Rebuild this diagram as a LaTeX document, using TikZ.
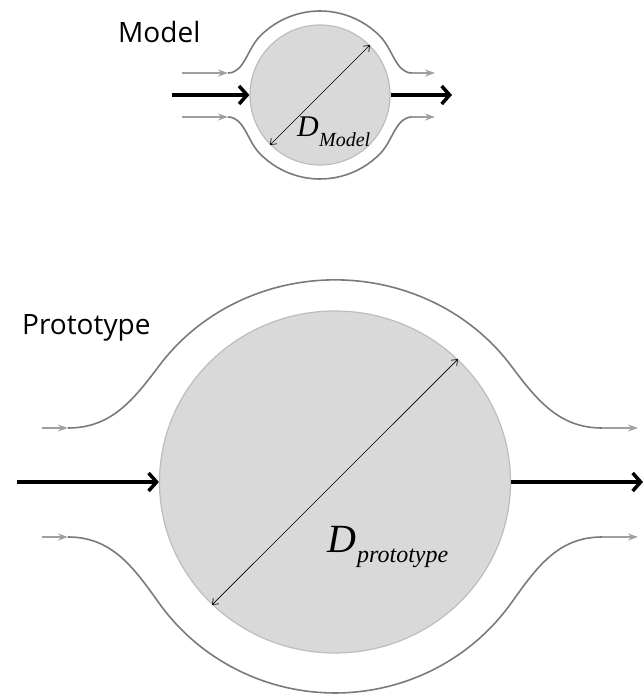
\documentclass[tikz,border=0pt]{standalone}
\usepackage{fontspec}
\setmainfont{Liberation Serif}
\newfontfamily\labelfont{Open Sans}
\usetikzlibrary{arrows.meta,shapes.geometric}
\definecolor{bodyfill}{HTML}{D9D9D9}
\definecolor{bodyline}{HTML}{BDBDBD}
\definecolor{flowgray}{HTML}{7A7A7A}
\definecolor{arrowgray}{HTML}{A0A0A0}
\begin{document}
\begin{tikzpicture}[x=1pt,y=1pt,
  body/.style={fill=bodyfill, draw=bodyline, line width=1.2pt, inner sep=0pt},
  flow/.style={draw=flowgray, line width=1.6pt},
  flowarrow/.style={draw=arrowgray, line width=1.6pt, -{Stealth[length=10pt,width=7pt]}},
  bigarrow/.style={draw=black, line width=3.5pt, -{Straight Barb[length=8pt,width=18pt]}},
  diam/.style={draw=black, line width=0.7pt, {Straight Barb[length=5pt,width=8pt]}-{Straight Barb[length=5pt,width=8pt]}},
  caption/.style={font=\labelfont\fontsize{28}{28}\selectfont, inner sep=0pt, anchor=base west},
  dbig/.style={font=\itshape\fontsize{#1}{#1}\selectfont, inner sep=0pt, anchor=base west}
]
\useasboundingbox (0,0) rectangle (644,697);

% ---------------- Model ----------------
\node[body, circle, minimum size=140pt] (mc) at (320,602) {};
\node[caption] (mlab) at (118,654) {Model};

\coordinate (mu0) at (182,624);
\coordinate (mu1) at (228,624);
\coordinate (mu2) at (412,624);
\coordinate (mu3) at (435,624);
\coordinate (ml0) at (182,580);
\coordinate (ml1) at (228,580);
\coordinate (ml2) at (412,580);
\coordinate (ml3) at (435,580);

\draw[flow] (mu1) .. controls (244,624) and (247.1,647.4) .. (259.58,660.35)
  arc[start angle=136,end angle=44,radius=84]
  .. controls (392.9,647.4) and (396,624) .. (mu2);
\draw[flow] (ml1) .. controls (244,580) and (247.1,556.6) .. (259.58,543.65)
  arc[start angle=224,end angle=316,radius=84]
  .. controls (392.9,556.6) and (396,580) .. (ml2);
\draw[flowarrow] (mu0) -- (mu1);
\draw[flowarrow] (ml0) -- (ml1);
\draw[flowarrow] (mu2) -- (mu3);
\draw[flowarrow] (ml2) -- (ml3);

\coordinate (ma0) at (172,602);
\coordinate (ma1) at (452,602);
\draw[bigarrow] (ma0) -- (mc.west);
\draw[bigarrow] (mc.east) -- (ma1);

\draw[diam] (mc.225) -- (mc.45);
\node[dbig=30] (dm) at (297,560) {D};
\node[dbig=20] (dms) at (319,550) {Model};

% ---------------- Prototype ----------------
\node[body, ellipse, minimum width=351pt, minimum height=342pt] (pc) at (335,215) {};
\node[caption] (plab) at (22,362) {Prototype};

\coordinate (pu0) at (42,269);
\coordinate (pu1) at (68,269);
\coordinate (pu2) at (602,269);
\coordinate (pu3) at (638,269);
\coordinate (pl0) at (42,160);
\coordinate (pl1) at (68,160);
\coordinate (pl2) at (602,160);
\coordinate (pl3) at (638,160);

\draw[flow] (pu1) to[out=0,in=-127] (159,331)
  arc[start angle=145,end angle=35,x radius=215,y radius=202]
  to[out=-53,in=180] (pu2);
\draw[flow] (pl1) to[out=0,in=125.5] (159,94)
  arc[start angle=215,end angle=325,x radius=215,y radius=211]
  to[out=54.5,in=180] (pl2);
\draw[flowarrow] (pu0) -- (pu1);
\draw[flowarrow] (pl0) -- (pl1);
\draw[flowarrow] (pu2) -- (pu3);
\draw[flowarrow] (pl2) -- (pl3);

\coordinate (pa0) at (17,215);
\coordinate (pa1) at (643,215);
\draw[bigarrow] (pa0) -- (pc.west);
\draw[bigarrow] (pc.east) -- (pa1);

\draw[diam] (pc.225) -- (pc.45);
\node[dbig=40] (dp) at (327,144) {D};
\node[dbig=24] (dps) at (357,134) {prototype};
\end{tikzpicture}
\end{document}
